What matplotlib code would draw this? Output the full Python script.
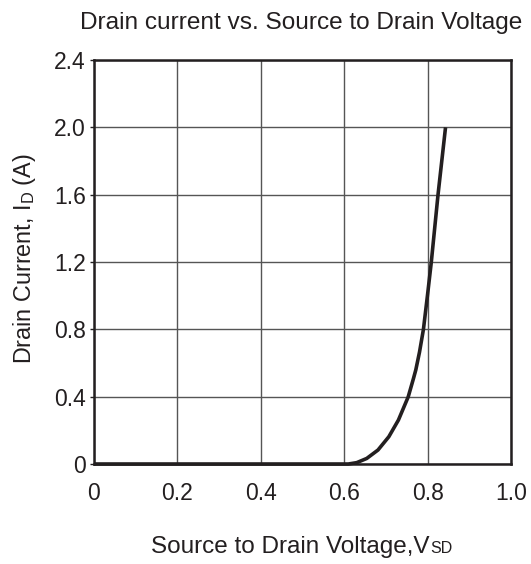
import matplotlib
matplotlib.use("Agg")
import matplotlib.pyplot as plt

plt.rcParams['font.family'] = ['Liberation Sans', 'DejaVu Sans']
plt.rcParams['mathtext.fontset'] = 'custom'
plt.rcParams['mathtext.rm'] = 'Liberation Sans'

# Data
vsd = [0.0, 0.61, 0.630, 0.654, 0.681, 0.707, 0.730, 0.7535, 0.766, 0.7717,
       0.7806, 0.790, 0.800, 0.8089, 0.825, 0.843]
id_a = [0.0, 0.0, 0.008, 0.033, 0.083, 0.162, 0.261, 0.399, 0.507, 0.559,
        0.665, 0.80, 1.008, 1.20, 1.60, 2.00]

x_ticks = [0, 0.2, 0.4, 0.6, 0.8, 1.0]
x_labels = ["0", "0.2", "0.4", "0.6", "0.8", "1.0"]
y_ticks = [0, 0.4, 0.8, 1.2, 1.6, 2.0, 2.4]
y_labels = ["0", "0.4", "0.8", "1.2", "1.6", "2.0", "2.4"]

W, H = 531, 564
fig = plt.figure(figsize=(W/100, H/100), dpi=100)
L, R, T, B = 94, 511, 60, 464
ax = fig.add_axes([L/W, 1 - B/H, (R-L)/W, (B-T)/H])

ax.plot(vsd, id_a, color='#231f20', lw=2.6, solid_capstyle='butt', zorder=3, clip_on=False)

ax.set_xlim(0, 1.0)
ax.set_ylim(0, 2.4)
ax.set_xticks(x_ticks)
ax.set_xticklabels(x_labels)
ax.set_yticks(y_ticks)
ax.set_yticklabels(y_labels)
ax.grid(True, color='#555555', lw=1.0)
ax.set_axisbelow(True)
for s in ax.spines.values():
    s.set_linewidth(1.8)
    s.set_color('#231f20')
ax.tick_params(axis='x', length=0, pad=13, labelsize=16.5, colors='#231f20')
ax.tick_params(axis='y', length=3, width=1, pad=3, labelsize=16.5, colors='#231f20')

fig.text(25/W, 1 - 259/H, r"Drain Current, I$_{\mathregular{D}}$ (A)", fontsize=16.8,
         color='#231f20', rotation=90, ha='center', va='center')

t = fig.text(290/W, 1 - 553/H, "Source to Drain Voltage,V", fontsize=17.5,
             color='#231f20', ha='center', va='baseline')
renderer = fig.canvas.get_renderer()
bb = t.get_window_extent(renderer)
fig.text((bb.x1 + 1) / W, 1 - 553/H, "SD", fontsize=11.5,
         color='#231f20', ha='left', va='baseline')

fig.text(301/W, 1 - 29/H, "Drain current vs. Source to Drain Voltage", fontsize=17.6,
         color='#231f20', ha='center', va='baseline')

fig.savefig("out.png", dpi=100)
